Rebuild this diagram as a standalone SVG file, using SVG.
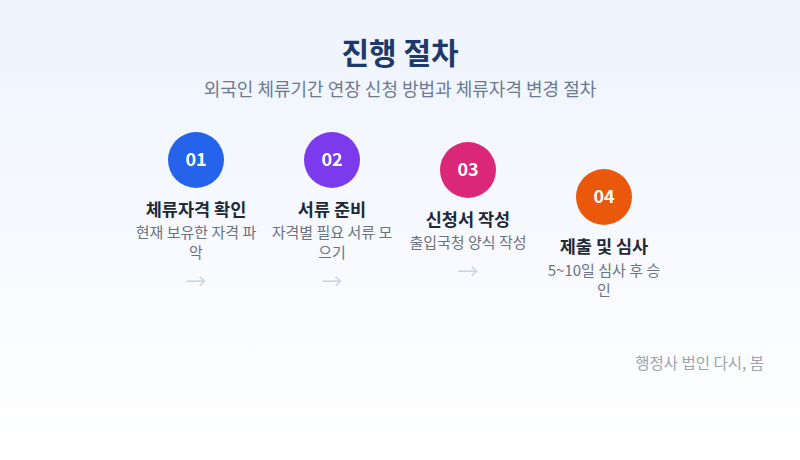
<svg xmlns="http://www.w3.org/2000/svg" width="800" height="460" viewBox="0 0 800 460">
<defs>
<linearGradient id="bg" x1="0" y1="0" x2="0" y2="1">
<stop offset="0" stop-color="#eef3fd"/>
<stop offset="1" stop-color="#ffffff"/>
</linearGradient>
<style>
text{font-family:"Noto Sans CJK KR","Noto Sans",sans-serif;text-anchor:middle}
.t{font-size:30px;font-weight:700;fill:#1e3a6b}
.s{font-size:18px;fill:#6b7a90}
.n{font-size:18px;font-weight:700;fill:#ffffff}
.h{font-size:17.5px;font-weight:700;fill:#1f2937}
.d{font-size:15px;fill:#6b7280}
.a{font-size:21px;fill:#cbd5e1}
.f{font-size:15.5px;fill:#9ca3af;text-anchor:end}
</style>
</defs>
<rect width="800" height="460" fill="url(#bg)"/>
<text class="t" x="400" y="64">진행 절차</text>
<text class="s" x="400" y="96">외국인 체류기간 연장 신청 방법과 체류자격 변경 절차</text>
<g id="step1">
<circle cx="196" cy="160" r="28" fill="#2563eb"/>
<text class="n" x="196" y="166">01</text>
<text class="h" x="196" y="216">체류자격 확인</text>
<text class="d" x="196" y="238">현재 보유한 자격 파</text>
<text class="d" x="196" y="258">악</text>
</g>
<g id="step2">
<circle cx="332" cy="160" r="28" fill="#7c3aed"/>
<text class="n" x="332" y="166">02</text>
<text class="h" x="332" y="216">서류 준비</text>
<text class="d" x="332" y="238">자격별 필요 서류 모</text>
<text class="d" x="332" y="258">으기</text>
</g>
<g id="step3">
<circle cx="468" cy="170" r="28" fill="#db2777"/>
<text class="n" x="468" y="176">03</text>
<text class="h" x="468" y="226">신청서 작성</text>
<text class="d" x="468" y="248">출입국청 양식 작성</text>
</g>
<g id="step4">
<circle cx="604" cy="197" r="28" fill="#ea580c"/>
<text class="n" x="604" y="203">04</text>
<text class="h" x="604" y="253">제출 및 심사</text>
<text class="d" x="604" y="276">5~10일 심사 후 승</text>
<text class="d" x="604" y="296">인</text>
</g>
<g id="connectors">
<text class="a" x="196" y="289">→</text>
<text class="a" x="332" y="289">→</text>
<text class="a" x="468" y="279">→</text>
</g>
<text class="f" x="764" y="369">행정사 법인 다시, 봄</text>
</svg>
